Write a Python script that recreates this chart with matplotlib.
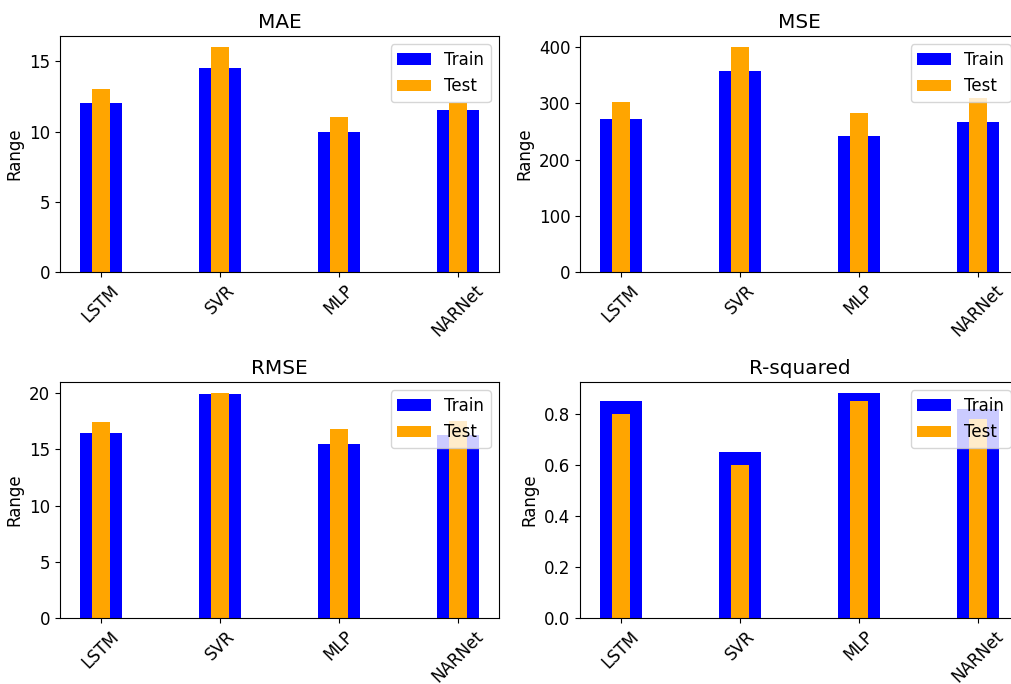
import matplotlib
matplotlib.use("Agg")
import matplotlib.pyplot as plt
from matplotlib.ticker import MultipleLocator
import numpy as np

models = ["LSTM", "SVR", "MLP", "NARNet"]
metrics = ["MAE", "MSE", "RMSE", "R-squared"]

mae_train = [12.0, 14.5, 10.0, 11.5]
mae_test = [13.0, 16.0, 11.0, 12.0]
mse_train = [272, 357, 242, 267]
mse_test = [303, 400, 283, 310]
rmse_train = [16.5, 19.9, 15.5, 16.3]
rmse_test = [17.4, 20.0, 16.8, 17.5]
r2_train = [0.85, 0.65, 0.88, 0.82]
r2_test = [0.80, 0.60, 0.85, 0.78]

train_vals = [mae_train, mse_train, rmse_train, r2_train]
test_vals = [mae_test, mse_test, rmse_test, r2_test]
ytick_steps = [5, 100, 5, 0.2]

plt.rcParams["font.size"] = 12
W, H = 1011, 684
fig = plt.figure(figsize=(W / 100, H / 100), dpi=100)

# axes boxes in pixels: left, top, width, height
boxes = [(60, 36, 439, 236), (580, 36, 439, 236),
         (60, 382, 439, 236), (580, 382, 439, 236)]

x = np.arange(len(models))
for i, (l, t, w, h) in enumerate(boxes):
    ax = fig.add_axes([l / W, 1 - (t + h) / H, w / W, h / H])
    ax.bar(x, train_vals[i], width=0.35, color="blue", label="Train")
    ax.bar(x, test_vals[i], width=0.15, color="orange", label="Test")
    ax.set_title(metrics[i])
    ax.set_ylabel("Range")
    ax.yaxis.set_major_locator(MultipleLocator(ytick_steps[i]))
    ax.set_xticks(x)
    ax.set_xticklabels(models, rotation=45)
    ax.legend(loc="upper right")

fig.text(464.5 / W, 1 + 1.5 / H, "(a)", ha="center", va="baseline")

fig.savefig("out.png", dpi=100)
